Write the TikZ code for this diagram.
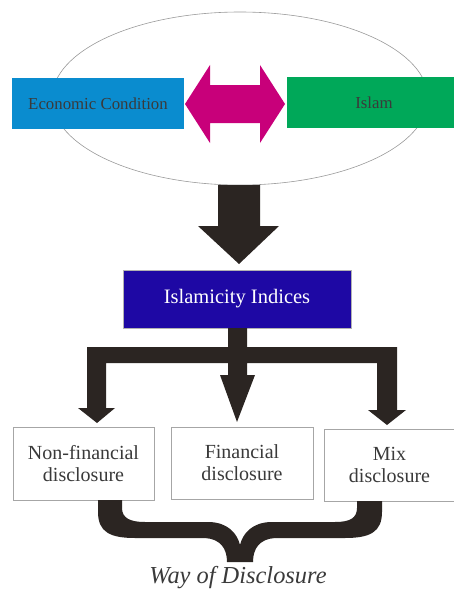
\documentclass[tikz,border=0pt]{standalone}
\usepackage{fontspec}
\setmainfont{Liberation Serif}
\usetikzlibrary{shapes.geometric}
\definecolor{econblue}{HTML}{0A8CCF}
\definecolor{islamgreen}{HTML}{00A859}
\definecolor{arrowmag}{HTML}{C8007A}
\definecolor{indexblue}{HTML}{1E08A4}
\definecolor{arrowdark}{HTML}{2B2522}
\definecolor{txtgray}{HTML}{3A3A3A}
\begin{document}
\begin{tikzpicture}[x=1pt,y=-1pt,
  topbox/.style={inner sep=0pt, text=txtgray, font=\fontsize{16.8}{20}\selectfont},
  discbox/.style={draw=gray!70, line width=0.8pt, fill=white, inner sep=0pt, text=txtgray,
     align=center, font=\fontsize{20}{22}\selectfont},
  fatarrow/.style={fill=arrowdark, draw=none}]
\useasboundingbox (0,0) rectangle (454,594);
% ellipse
\node[draw=gray!80, line width=0.6pt, ellipse, inner sep=0pt, minimum width=376, minimum height=173] (ell) at (240,98.5) {};
% top boxes
\node[topbox, fill=econblue, minimum width=172, minimum height=51] (econ) at (98,103.5) {Economic Condition};
\node[topbox, fill=islamgreen, minimum width=167, minimum height=51] (islam) at (370.5,102.5) {\hspace*{7pt}Islam};
% double arrow
\fill[arrowmag] (185,104) -- (210,65) -- (210,85) -- (260,85) -- (260,65) -- (285,104)
  -- (260,143) -- (260,123) -- (210,123) -- (210,143) -- cycle;
% islamicity indices
\node[fill=indexblue, draw=gray!60, line width=0.4pt, minimum width=228, minimum height=58, inner sep=0pt,
  text=white, font=\fontsize{20.5}{24}\selectfont] (idx) at (237,299) {Islamicity Indices};
% big down arrow
\fill[fatarrow] (218,185) -- (260,185) -- (260,226) -- (279,226) -- (239,264) -- (198,226) -- (218,226) -- cycle;
% branch arrows
\fill[fatarrow] (228,328) -- (247,328) -- (247,347) -- (397,347) -- (397,410) -- (406,410) -- (387,425)
  -- (368,410) -- (377,410) -- (377,363) -- (247,363) -- (247,375) -- (255,375) -- (237,422)
  -- (220,375) -- (228,375) -- (228,363) -- (106,363) -- (106,408) -- (115,408) -- (97,423)
  -- (78,408) -- (87,408) -- (87,347) -- (228,347) -- cycle;
% bottom boxes
\node[discbox, minimum width=141, minimum height=73] (nonfin) at (83.5,463.5) {Non-financial\\disclosure};
\node[discbox, minimum width=142, minimum height=72] (fin) at (242,463) {Financial\\disclosure};
\node[discbox, minimum width=131, minimum height=72] (mix) at (389.5,465) {Mix\\disclosure};
% brace
\fill[fatarrow] (98,500) -- (98,512) .. controls (98,532) and (110,538) .. (135,538) -- (205,538)
  .. controls (220,539) and (227,548) .. (227,562) -- (253,562)
  .. controls (253,548) and (260,539) .. (275,538) -- (345,538)
  .. controls (370,538) and (382,532) .. (382,512) -- (382,501) -- (357,501) -- (357,508)
  .. controls (357,518) and (350,522) .. (335,522) -- (270,522)
  .. controls (252,523) and (243,533) .. (240,545)
  .. controls (237,533) and (228,523) .. (210,522) -- (145,522)
  .. controls (130,522) and (122,518) .. (122,508) -- (122,500) -- cycle;
\node[text=txtgray, font=\fontsize{24.4}{28}\selectfont\itshape] (way) at (238,578) {Way of Disclosure};
\end{tikzpicture}
\end{document}
